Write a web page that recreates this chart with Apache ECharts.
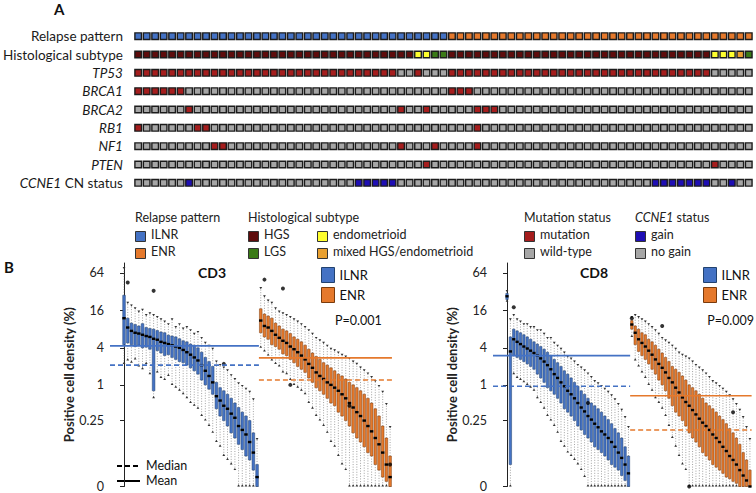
<!DOCTYPE html>
<html><head><meta charset="utf-8">
<script src="https://cdn.jsdelivr.net/npm/echarts@6/dist/echarts.min.js"></script>
<style>html,body{margin:0;padding:0;background:#fff}#c{width:756px;height:493px}</style>
</head><body><div id="c"></div>
<script>
// ================= Panel A data =================
const rowLabels = ['Relapse pattern','Histological subtype','TP53','BRCA1','BRCA2','RB1','NF1','PTEN','CCNE1 CN status'];
// 0 = ILNR, 1 = ENR
const relapse = [0,0,0,0,0,0,0,0,0,0, 0,0,0,0,0,0,0,0,0,0, 0,0,0,0,0,0,0,0,0,0, 0,0,0,0,0,0,0,1,1,1,
                 1,1,1,1,1,1,1,1,1,1, 1,1,1,1,1,1,1,1,1,1, 1,1,1,1,1,1,1,1,1,1, 1,1,1];
// 0 = HGS, 1 = LGS, 2 = endometrioid, 3 = mixed HGS/endometrioid
const histology = [0,0,0,0,0,0,0,0,0,0, 0,0,0,0,0,0,0,0,0,0, 0,0,0,0,0,0,0,0,0,0, 0,0,0,2,2,1,1,0,0,0,
                   0,0,0,0,0,0,0,0,0,0, 0,0,0,0,0,0,0,0,0,0, 0,0,0,0,0,0,0,0,2,2, 2,3,1];
// 1 = mutation, 0 = wild-type
const tp53  = [1,1,1,1,1,1,1,1,1,1, 1,1,1,1,1,1,1,1,1,1, 1,1,1,1,1,1,1,1,1,1, 1,0,0,1,0,0,0,1,1,1,
               1,1,1,1,1,1,1,1,1,1, 1,1,1,1,1,1,1,1,1,1, 1,1,1,1,1,1,1,1,0,0, 0,0,0];
const brca1 = [1,1,1,1,1,1,0,0,0,0, 0,0,0,0,0,0,0,0,0,0, 0,0,0,0,0,0,0,0,0,0, 0,0,0,0,0,0,0,1,1,1,
               0,0,0,0,0,0,0,0,0,0, 0,0,0,0,0,0,0,0,0,0, 0,0,0,0,0,0,0,0,0,0, 0,0,0];
const brca2 = [0,0,0,0,0,0,1,0,0,0, 0,0,0,0,0,0,0,0,0,0, 0,0,0,0,0,0,0,0,0,0, 0,1,0,0,1,0,0,0,0,0,
               1,1,1,0,0,0,0,0,0,0, 0,0,0,0,0,0,0,0,0,0, 0,0,0,0,0,0,0,0,0,0, 0,0,0];
const rb1   = [1,0,0,0,0,0,0,1,1,0, 0,0,0,0,0,0,0,0,0,0, 0,0,0,0,0,0,0,0,0,0, 0,0,0,0,0,0,0,0,0,0,
               1,0,0,0,0,0,0,0,0,0, 0,0,0,0,0,0,0,0,0,0, 0,0,0,0,0,0,0,0,0,0, 0,0,0];
const nf1   = [0,0,0,0,0,0,0,0,0,1, 1,0,0,0,0,0,0,0,0,0, 0,0,0,0,0,0,0,0,0,0, 0,1,0,0,0,1,0,0,0,0,
               1,0,0,0,0,0,0,0,0,0, 0,0,0,0,0,0,0,0,0,0, 0,0,0,0,0,0,0,0,0,0, 0,0,0];
const pten  = [0,0,0,0,0,0,0,0,0,0, 0,0,0,0,0,0,0,0,0,0, 0,0,0,0,0,0,0,0,0,0, 0,0,0,0,1,0,0,0,0,0,
               0,0,0,0,0,0,0,0,0,0, 0,0,0,0,0,0,0,0,0,0, 0,0,0,0,0,0,0,0,1,0, 0,0,0];
// 1 = gain, 0 = no gain
const ccne1 = [0,0,0,0,0,0,1,0,0,0, 0,0,0,0,0,0,0,0,0,0, 0,0,0,0,0,0,1,1,1,1, 1,0,0,0,0,0,0,0,0,0,
               0,0,0,0,0,0,0,0,0,0, 0,0,0,0,0,0,0,0,0,0, 0,1,1,1,1,1,1,1,0,0, 1,0,0];

// ================= Panel B data =================
// each box: [min, q1, median, q3, max]  (positive cell density, %)
const cd3Ilnr = [
 [2.2,4.5,12,28,80],[2.5,4.8,8.5,12,22],[2.3,4.5,7.5,10,20],[2.6,4.2,7,9.5,18],[2.0,4.4,6.8,9,16],
 [1.8,4.0,6.5,9.8,17],[2.2,4.1,6.2,8.5,14],[1.5,3.8,6.0,8.2,15],[0.6,0.8,5.6,8.0,14],[1.6,3.6,5.4,7.6,13],
 [1.3,3.3,5.0,7.2,12],[1.2,3.0,4.8,7.0,11],[1.4,3.1,4.6,6.4,10],[1.0,2.8,4.4,6.2,12],[0.9,2.6,4.2,6.0,9],
 [0.8,2.4,4.0,5.6,10],[0.7,2.3,3.7,5.2,8.5],[0.6,2.1,3.4,5.0,9],[0.5,1.9,3.1,4.6,8],[0.45,1.7,2.8,4.4,7],
 [0.4,1.5,2.5,4.0,7.5],[0.3,1.2,2.1,3.4,6],[0.25,1.0,1.7,2.8,5],[0.2,0.85,1.4,2.4,4.5],[0.15,0.7,1.1,2.0,4],
 [0.1,0.4,0.65,1.1,2.5],[0.08,0.3,0.55,0.9,2.2],[0.05,0.25,0.45,0.8,2],[0.04,0.2,0.4,0.7,1.8],[0.03,0.15,0.33,0.6,1.5],
 [0.02,0.12,0.28,0.5,1.3],[0,0.09,0.2,0.42,1.1],[0,0.07,0.17,0.35,1],[0,0.05,0.14,0.3,0.9],[0,0.04,0.1,0.25,0.8],
 [0,0.02,0.06,0.15,0.6],[0,0,0.01,0.03,0.12]
];
const cd3Enr = [
 [4,7,11,17,38],[3.5,6,9,14,28],[3,5.5,8.5,13,24],[2.5,4.5,7.5,12,22],[2.2,4.2,6.5,10,18],
 [2,3.8,5.8,9,16],[1.6,3.2,5.2,8,15],[1.5,3,4.8,7.5,14],[1.2,2.6,4.2,6.8,13],[1.0,2.3,3.8,6,12],
 [0.9,2.0,3.4,5.5,11],[0.8,1.8,3.0,5,10],[0.7,1.6,2.6,4.4,9],[0.5,1.3,2.2,3.8,8],[0.4,1.1,1.9,3.3,7],
 [0.3,0.9,1.6,2.9,6],[0.25,0.8,1.4,2.6,5.5],[0.2,0.7,1.25,2.3,5],[0.15,0.6,1.1,2.1,4.5],[0.1,0.5,1.0,1.9,4],
 [0.08,0.45,0.9,1.7,3.8],[0.05,0.35,0.8,1.5,3.5],[0.03,0.3,0.7,1.4,3.2],[0.02,0.25,0.6,1.25,3],[0,0.2,0.5,1.1,2.8],
 [0,0.15,0.42,1.0,2.5],[0,0.12,0.35,0.9,2.3],[0,0.1,0.3,0.8,2],[0,0.08,0.25,0.7,1.8],[0,0.06,0.2,0.6,1.6],
 [0,0.05,0.16,0.5,1.4],[0,0.03,0.12,0.4,1.2],[0,0.02,0.09,0.3,1],[0,0.01,0.06,0.2,0.8],[0,0.005,0.03,0.12,0.5],
 [0,0,0.01,0.05,0.2]
];
const cd8Ilnr = [
 [22,24,27,30,34],[0,0.03,3.5,6,12],[1.5,3,5.5,8,14],[1.3,2.8,5,7.5,12],[1.2,2.6,4.6,7,11],
 [1.1,2.4,4.2,6.5,10],[1.0,2.2,3.9,6,10],[0.9,2.0,3.6,5.5,9],[0.8,1.8,3.3,5,9],[0.6,1.5,3.0,4.6,8],
 [0.5,1.3,2.7,4.2,8],[0.4,1.1,2.4,3.8,7],[0.3,0.9,2.1,3.4,6],[0.25,0.8,1.8,3.0,6],[0.2,0.7,1.5,2.6,5],
 [0.15,0.6,1.3,2.3,4.5],[0.1,0.5,1.1,2.0,4],[0.08,0.4,0.95,1.7,3.5],[0.06,0.35,0.8,1.5,3],[0.05,0.3,0.7,1.3,2.8],
 [0.04,0.25,0.6,1.1,2.5],[0.03,0.2,0.5,0.95,2.2],[0.02,0.17,0.42,0.8,2],[0.01,0.14,0.36,0.7,1.8],[0,0.12,0.3,0.6,1.6],
 [0,0.1,0.26,0.5,1.4],[0,0.08,0.22,0.45,1.2],[0,0.07,0.19,0.4,1.1],[0,0.06,0.16,0.35,1],[0,0.05,0.14,0.3,0.9],
 [0,0.04,0.12,0.26,0.8],[0,0.03,0.1,0.22,0.7],[0,0.025,0.08,0.18,0.6],[0,0.02,0.06,0.15,0.5],[0,0.012,0.045,0.12,0.4],
 [0,0.006,0.03,0.08,0.3],[0,0,0.015,0.05,0.2]
];
const cd8Enr = [
 [6,8,9.5,11,13],[2.5,4.5,7,9,14],[2,3.5,5.5,8,13],[1.6,3,4.8,7,12],[1.3,2.6,4.2,6.5,11],
 [1.0,2.2,3.6,5.5,10],[0.8,1.8,3.1,5,9],[0.6,1.5,2.6,4.4,8],[0.5,1.2,2.2,3.8,7],[0.4,1.0,1.9,3.3,6],
 [0.3,0.8,1.6,2.8,5.5],[0.2,0.6,1.3,2.4,5],[0.12,0.45,1.1,2.0,4.5],[0.08,0.35,0.9,1.8,4],[0.05,0.3,0.75,1.6,3.5],
 [0.03,0.25,0.62,1.4,3.2],[0.02,0.2,0.52,1.2,3],[0,0.15,0.45,1.0,2.8],[0,0.12,0.38,0.9,2.5],[0,0.1,0.32,0.8,2.2],
 [0,0.08,0.27,0.7,2],[0,0.06,0.23,0.6,1.8],[0,0.05,0.2,0.5,1.6],[0,0.04,0.17,0.45,1.4],[0,0.03,0.14,0.4,1.2],
 [0,0.025,0.12,0.35,1.1],[0,0.02,0.1,0.3,1],[0,0.015,0.08,0.26,0.9],[0,0.01,0.065,0.22,0.8],[0,0.008,0.05,0.18,0.7],
 [0,0.005,0.04,0.15,0.6],[0,0.003,0.03,0.12,0.5],[0,0,0.02,0.09,0.4],[0,0,0.012,0.06,0.3],[0,0,0.006,0.04,0.2],
 [0,0,0,0.02,0.12]
];
// outliers: [box index within group, value]
const cd3IlnrOut = [[1,45],[8,33],[27,2.2]];
const cd3EnrOut  = [[1,50],[6,36],[8,1.0],[24,0.45],[35,0.03]];
const cd8IlnrOut = [[2,18],[24,0.5]];
const cd8EnrOut  = [[0,12],[9,9],[17,0],[30,0.35]];
// group summary lines: [mean, median]
const cd3IlnrStats = [4.3, 2.1];
const cd3EnrStats  = [2.75, 1.2];
const cd8IlnrStats = [3.0, 0.95];
const cd8EnrStats  = [0.66, 0.17];
const pValues = ['P=0.001','P=0.009'];
const yTickValues = [64,16,4,1,0.25,0];
const yTickLabels = ['64','16','4','1','0.25','0'];

// ================= rendering =================
const FONT = 'Lato';
const C = 0.024;
const T = v => Math.log2(v + C);
const Y_MIN = T(0), Y_MAX = 6.53;

const COL = {
  ilnr:'#4472C4', enr:'#E5792C', hgs:'#5E0C0C', lgs:'#3A7A16', endo:'#FFFF2E', mixed:'#E9A030',
  mut:'#A51D1D', wt:'#A6A6A6', gain:'#1E0EB4'
};
const histCol = [COL.hgs, COL.lgs, COL.endo, COL.mixed];
const rows = [
  relapse.map(v => v ? COL.enr : COL.ilnr),
  histology.map(v => histCol[v]),
  tp53.map(v => v ? COL.mut : COL.wt),
  brca1.map(v => v ? COL.mut : COL.wt),
  brca2.map(v => v ? COL.mut : COL.wt),
  rb1.map(v => v ? COL.mut : COL.wt),
  nf1.map(v => v ? COL.mut : COL.wt),
  pten.map(v => v ? COL.mut : COL.wt),
  ccne1.map(v => v ? COL.gain : COL.wt)
];
const cellData = [];
rows.forEach((r, ri) => r.forEach((c, ci) => cellData.push({value:[ci, ri], itemStyle:{color:c}})));
const patients = relapse.map((_, i) => 'P' + (i + 1));

function boxRenderer(fill, stroke) {
  return function (params, api) {
    const x = api.value(0);
    const p = [1,2,3,4,5].map(k => api.coord([x, api.value(k)]));
    const w = api.size([1, 0])[0] * 0.72;
    const cx = p[2][0];
    const wl = {stroke:'#555', lineWidth:0.55, lineDash:[1,1.6]};
    return {type:'group', children:[
      {type:'line', shape:{x1:cx, y1:p[3][1], x2:cx, y2:p[4][1]}, style:wl},
      {type:'line', shape:{x1:cx, y1:p[1][1], x2:cx, y2:p[0][1]}, style:wl},
      {type:'polygon', shape:{points:[[cx-1.4,p[4][1]],[cx+1.4,p[4][1]],[cx,p[4][1]+2.2]]}, style:{fill:'#333'}},
      {type:'polygon', shape:{points:[[cx-1.4,p[0][1]],[cx+1.4,p[0][1]],[cx,p[0][1]-2.2]]}, style:{fill:'#333'}},
      {type:'rect', shape:{x:cx-w/2, y:p[3][1], width:w, height:Math.max(0.5, p[1][1]-p[3][1])},
        style:{fill:fill, stroke:stroke, lineWidth:0.5}},
      {type:'line', shape:{x1:cx-w/2-0.4, y1:p[2][1], x2:cx+w/2+0.4, y2:p[2][1]}, style:{stroke:'#000', lineWidth:2.4}}
    ]};
  };
}
const boxData = (arr, offset) => arr.map((b, i) => [i + offset, ...b.map(T)]);
const outData = (arr, offset) => arr.map(o => [o[0] + offset, T(o[1])]);

function bSeries(ax, ilnr, enr, ilnrOut, enrOut, ilnrStats, enrStats, xMin) {
  const nI = ilnr.length, nE = enr.length;
  const lastE = nI + nE - 1;
  const line = (x1, x2, v, color, dashed) => ({
    type:'line', xAxisIndex:ax, yAxisIndex:ax, symbol:'none', silent:true, z:5,
    lineStyle:{color, width:1.6, type: dashed ? [5,3] : 'solid'},
    data:[[x1, T(v)], [x2, T(v)]]
  });
  return [
    {type:'custom', name:'ILNR', xAxisIndex:ax, yAxisIndex:ax, renderItem:boxRenderer(COL.ilnr,'#22426f'),
      itemStyle:{color:COL.ilnr}, encode:{x:0, y:[1,2,3,4,5]}, data:boxData(ilnr, 0), z:3, clip:false},
    {type:'custom', name:'ENR', xAxisIndex:ax, yAxisIndex:ax, renderItem:boxRenderer(COL.enr,'#7a3b0c'),
      itemStyle:{color:COL.enr}, encode:{x:0, y:[1,2,3,4,5]}, data:boxData(enr, nI), z:3, clip:false},
    {type:'scatter', xAxisIndex:ax, yAxisIndex:ax, symbolSize:4, itemStyle:{color:'#000'}, z:4,
      data:outData(ilnrOut, 0).concat(outData(enrOut, nI))},
    line(xMin, nI - 0.5, ilnrStats[0], COL.ilnr, false),
    line(xMin, nI - 0.5, ilnrStats[1], COL.ilnr, true),
    line(nI - 0.5, lastE + 0.5, enrStats[0], COL.enr, false),
    line(nI - 0.5, lastE + 0.5, enrStats[1], COL.enr, true)
  ];
}

const yAxisB = (gi) => ({
  type:'value', gridIndex:gi, min:Y_MIN, max:Y_MAX,
  axisLine:{show:true, lineStyle:{color:'#222', width:1}},
  axisTick:{show:true, length:4, customValues:yTickValues.map(T), lineStyle:{color:'#222'}},
  splitLine:{show:false},
  axisLabel:{customValues:yTickValues.map(T), color:'#222', fontFamily:FONT, fontSize:12.5, margin:6,
    formatter:(v) => { let bi = 0, bd = 1e9; yTickValues.forEach((t, i) => { const d = Math.abs(T(t) - v); if (d < bd) { bd = d; bi = i; } }); return yTickLabels[bi]; }},
  name:'Positive cell density (%)', nameLocation:'middle', nameGap:17, nameRotate:90,
  nameTextStyle:{fontFamily:FONT, fontWeight:'bold', fontSize:13, color:'#222'}
});

const CD3_XMIN = -3.8, CD3_XMAX = 73.6, CD8_XMIN = -4.15, CD8_XMAX = 73.8;

function legendSquares(x, y, items) {
  const out = [];
  items.forEach((it, i) => {
    out.push({type:'rect', left:x + it[2], top:y + it[3] - 5, shape:{width:10, height:10},
      style:{fill:it[0], stroke:'#333', lineWidth:1}});
    out.push({type:'text', left:x + it[2] + 16, top:y + it[3] - 8,
      style:{text:it[1], font:'12.5px ' + FONT, fill:'#222'}});
  });
  return out;
}

const LT = 219, L1 = 236, L2 = 253;
const graphics = [
  {type:'text', left:54, top:1, style:{text:'A', font:'bold 15px ' + FONT, fill:'#111'}},
  {type:'text', left:4, top:259, style:{text:'B', font:'bold 15px ' + FONT, fill:'#111'}},
  {type:'text', left:135, top:LT - 8, style:{text:'Relapse pattern', font:'12.5px ' + FONT, fill:'#222'}},
  {type:'text', left:248, top:LT - 8, style:{text:'Histological subtype', font:'12.5px ' + FONT, fill:'#222'}},
  {type:'text', left:524, top:LT - 8, style:{text:'Mutation status', font:'12.5px ' + FONT, fill:'#222'}},
  {type:'text', left:635, top:LT - 8, style:{rich:{i:{fontStyle:'italic', font:'italic 12.5px ' + FONT, fill:'#222'}, n:{font:'12.5px ' + FONT, fill:'#222'}}, text:'{i|CCNE1}{n| status}'}},
  ...legendSquares(135, 0, [[COL.ilnr,'ILNR',0,L1],[COL.enr,'ENR',0,L2]]),
  ...legendSquares(248, 0, [[COL.hgs,'HGS',0,L1],[COL.lgs,'LGS',0,L2],[COL.endo,'endometrioid',69,L1],[COL.mixed,'mixed HGS/endometrioid',69,L2]]),
  ...legendSquares(524, 0, [[COL.mut,'mutation',0,L1],[COL.wt,'wild-type',0,L2]]),
  ...legendSquares(635, 0, [[COL.gain,'gain',0,L1],[COL.wt,'no gain',0,L2]]),
  // median / mean key
  {type:'line', shape:{x1:117, y1:466, x2:140, y2:466}, style:{stroke:'#000', lineWidth:2, lineDash:[5,3]}},
  {type:'line', shape:{x1:117, y1:481, x2:140, y2:481}, style:{stroke:'#000', lineWidth:2}},
  {type:'text', left:146, top:459, style:{text:'Median', font:'12.5px ' + FONT, fill:'#111'}},
  {type:'text', left:146, top:474, style:{text:'Mean', font:'12.5px ' + FONT, fill:'#111'}},
  {type:'text', left:335, top:314, style:{text:pValues[0], font:'12.5px ' + FONT, fill:'#111'}},
  {type:'text', right:2, top:314, style:{text:pValues[1], font:'12.5px ' + FONT, fill:'#111'}}
];

const option = {
  animation:false,
  textStyle:{fontFamily:FONT},
  title:[
    {text:'CD3', left:193, top:260, textStyle:{fontFamily:FONT, fontWeight:'bold', fontSize:14, color:'#111'}},
    {text:'CD8', left:575, top:260, textStyle:{fontFamily:FONT, fontWeight:'bold', fontSize:14, color:'#111'}}
  ],
  legend:[
    {left:316, top:262, orient:'vertical', itemWidth:13, itemHeight:15, itemGap:4, icon:'rect',
      textStyle:{fontFamily:FONT, fontSize:13, color:'#111', lineHeight:16},
      data:[{name:'ILNR', itemStyle:{color:COL.ilnr, borderColor:'#22426f', borderWidth:1}},
            {name:'ENR', itemStyle:{color:COL.enr, borderColor:'#7a3b0c', borderWidth:1}}]},
    {left:698, top:262, orient:'vertical', itemWidth:13, itemHeight:15, itemGap:4, icon:'rect',
      textStyle:{fontFamily:FONT, fontSize:13, color:'#111', lineHeight:16},
      data:[{name:'ILNR', itemStyle:{color:COL.ilnr, borderColor:'#22426f', borderWidth:1}},
            {name:'ENR', itemStyle:{color:COL.enr, borderColor:'#7a3b0c', borderWidth:1}}]}
  ],
  grid:[
    {left:130, top:27, width:623, height:165},
    {left:110, top:263, width:286, height:226},
    {left:493, top:263, width:263, height:226}
  ],
  xAxis:[
    {type:'category', gridIndex:0, data:patients, show:false},
    {type:'value', gridIndex:1, min:CD3_XMIN, max:CD3_XMAX, show:false},
    {type:'value', gridIndex:2, min:CD8_XMIN, max:CD8_XMAX, show:false}
  ],
  yAxis:[
    {type:'category', gridIndex:0, data:rowLabels, inverse:true,
      axisLine:{show:false}, axisTick:{show:false},
      axisLabel:{margin:11, fontFamily:FONT, fontSize:13.5, color:'#1a1a1a',
        formatter:(v) => {
          if (v === 'CCNE1 CN status') return '{i|CCNE1}{n| CN status}';
          if (v === 'Relapse pattern' || v === 'Histological subtype') return '{n|' + v + '}';
          return '{i|' + v + '}';
        },
        rich:{i:{fontStyle:'italic', fontFamily:FONT, fontSize:13.5, color:'#1a1a1a'},
              n:{fontFamily:FONT, fontSize:13.5, color:'#1a1a1a'}}}},
    yAxisB(1), yAxisB(2)
  ],
  series:[
    {type:'scatter', xAxisIndex:0, yAxisIndex:0, symbol:'rect', symbolSize:6.6,
      itemStyle:{borderColor:'#1c1c1c', borderWidth:1.4, opacity:1}, data:cellData, silent:true},
    ...bSeries(1, cd3Ilnr, cd3Enr, cd3IlnrOut, cd3EnrOut, cd3IlnrStats, cd3EnrStats, CD3_XMIN),
    ...bSeries(2, cd8Ilnr, cd8Enr, cd8IlnrOut, cd8EnrOut, cd8IlnrStats, cd8EnrStats, CD8_XMIN)
  ],
  graphic:graphics
};
const chart = echarts.init(document.getElementById('c'), null, {renderer:'svg'});
chart.setOption(option);
</script>
</body></html>
